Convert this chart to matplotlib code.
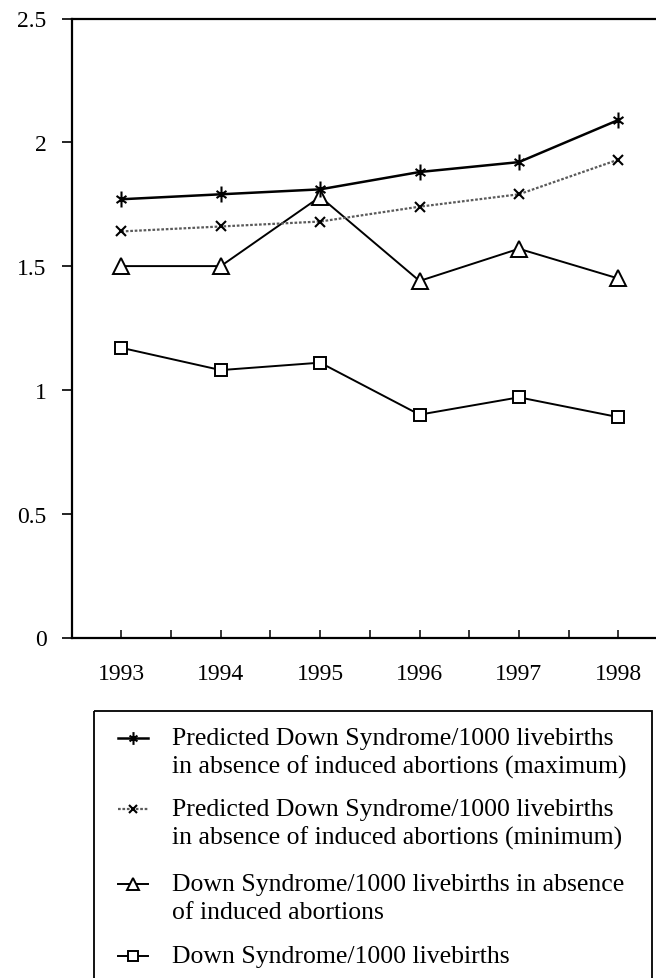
import matplotlib
matplotlib.use("Agg")
import matplotlib.pyplot as plt
from matplotlib.path import Path
from matplotlib.patches import Rectangle

plt.rcParams["font.family"] = ["Liberation Serif", "DejaVu Serif"]

# Datos
years = [1993, 1994, 1995, 1996, 1997, 1998]
half_years = [1993, 1993.5, 1994, 1994.5, 1995, 1995.5, 1996, 1996.5, 1997, 1997.5, 1998]
pred_max = [1.77, 1.79, 1.81, 1.88, 1.92, 2.09]
pred_min = [1.64, 1.66, 1.68, 1.74, 1.79, 1.93]
ds_no_abort = [1.50, 1.50, 1.78, 1.44, 1.57, 1.45]
ds_births = [1.17, 1.08, 1.11, 0.90, 0.97, 0.89]
y_ticks = [0, 0.5, 1, 1.5, 2, 2.5]
y_labels = ["0", "0.5", "1", "1.5", "2", "2.5"]
year_labels = ["1993", "1994", "1995", "1996", "1997", "1998"]

legend_lines = [
    ["Predicted Down Syndrome/1000 livebirths", "in absence of induced abortions (maximum)"],
    ["Predicted Down Syndrome/1000 livebirths", "in absence of induced abortions (minimum)"],
    ["Down Syndrome/1000 livebirths in absence", "of induced abortions"],
    ["Down Syndrome/1000 livebirths"],
]

# Marcador asterisco (x + barra vertical)
asterisk = Path(
    [(0, -1), (0, 1), (-0.62, -0.45), (0.62, 0.45), (-0.62, 0.45), (0.62, -0.45)],
    [Path.MOVETO, Path.LINETO, Path.MOVETO, Path.LINETO, Path.MOVETO, Path.LINETO],
)

estilos = [
    dict(color="black", lw=1.8, marker=asterisk, ms=11.5, mew=1.5, mfc="none", mec="black"),
    dict(color="#5a5a5a", lw=1.6, ls=(0, (1.2, 0.8)), marker="x", ms=7, mew=1.5, mec="black"),
    dict(color="black", lw=1.4, marker="^", ms=11.5, mew=1.4, mfc="white", mec="black"),
    dict(color="black", lw=1.4, marker="s", ms=9, mew=1.4, mfc="white", mec="black"),
]
series = [pred_max, pred_min, ds_no_abort, ds_births]

W, H = 656, 979
fig = plt.figure(figsize=(W / 100, H / 100), dpi=100)
fig.patch.set_facecolor("white")

ax = fig.add_axes([71.7 / W, 1 - 638.5 / H, (668 - 71.7) / W, (638.5 - 19.5) / H])

# dibujar de abajo hacia arriba para que el maximo quede encima
for vals, st in reversed(list(zip(series, estilos))):
    ax.plot(years, vals, **st)

ax.set_xlim(1992.5, 1998.5)
ax.set_ylim(0, 2.5)
ax.set_yticks(y_ticks)
ax.set_yticklabels(y_labels)
ax.set_xticks(years)
ax.set_xticklabels(year_labels)
ax.set_xticks(half_years, minor=True)

ax.tick_params(axis="y", direction="out", length=7, width=1.2, pad=11, labelsize=17)
ax.tick_params(axis="x", which="both", direction="in", length=5.5, width=1.1, pad=18, labelsize=17)
ax.spines["right"].set_visible(False)
for s in ["top", "left", "bottom"]:
    ax.spines[s].set_linewidth(1.6)

# Leyenda dibujada a mano (en pixeles de la figura)
lax = fig.add_axes([0, 0, 1, 1])
lax.set_xlim(0, W)
lax.set_ylim(H, 0)
lax.axis("off")
lax.add_patch(Rectangle((93.5, 712), 652 - 93.5, 320, fill=False, lw=1.3, ec="black"))

row_y = [739, 810, 885, 957]
for lines, st, y0 in zip(legend_lines, estilos, row_y):
    st_leg = dict(st)
    st_leg["ms"] = st["ms"] * 0.8
    lax.plot([118, 148], [y0, y0], markevery=[], **st_leg)
    lax.plot([133], [y0], **st_leg)
    for i, txt in enumerate(lines):
        lax.text(172, y0 + 28 * i, txt, fontsize=18.5, va="center", ha="left")

fig.savefig("out.png", dpi=100, facecolor="white")
